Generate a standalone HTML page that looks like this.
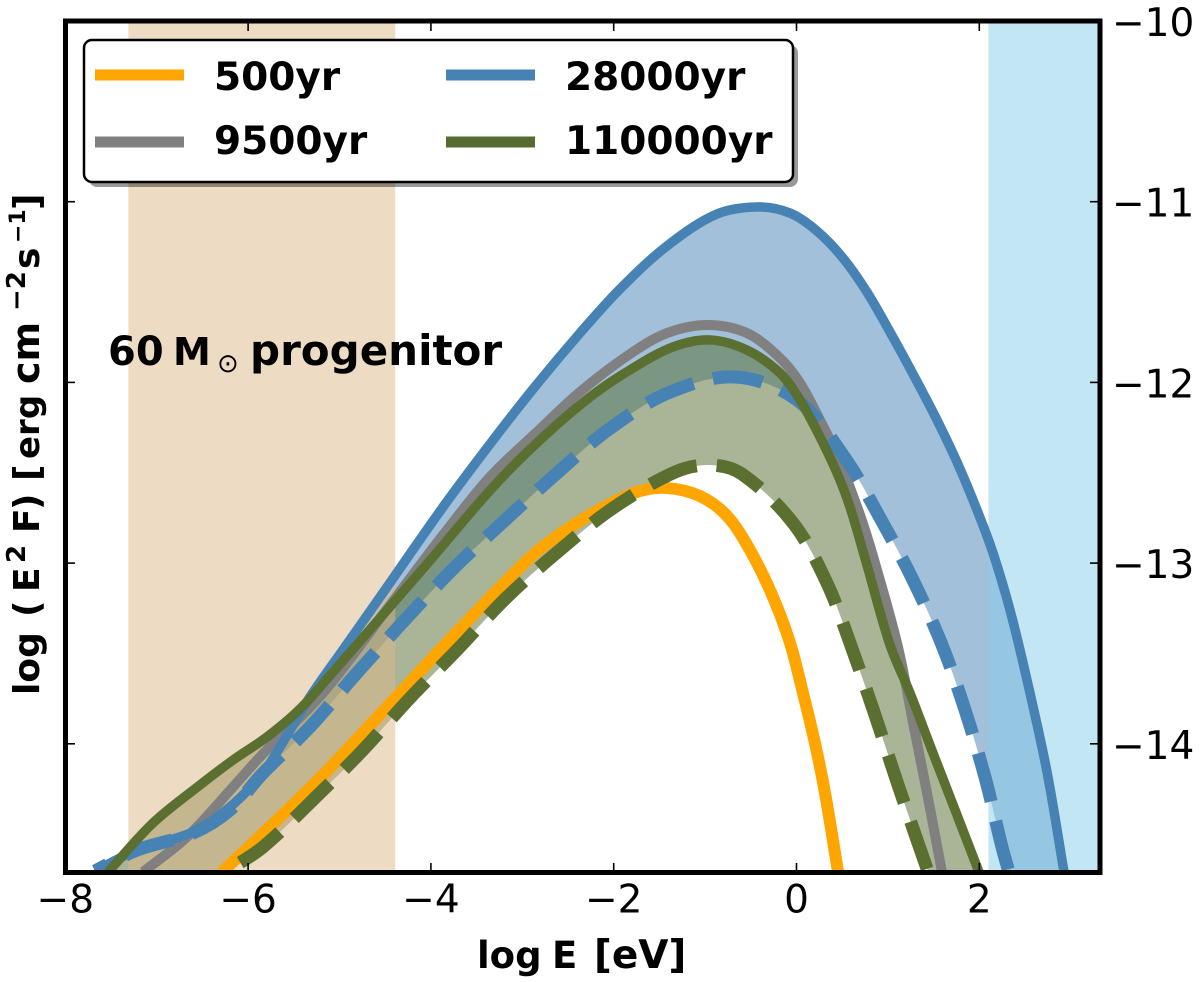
<!DOCTYPE html>
<html lang="en">
<head>
<meta charset="utf-8">
<title>60 solar mass progenitor spectral energy distribution</title>
<style>
html,body{margin:0;padding:0;background:#fff;}
svg{display:block;font-family:"DejaVu Sans","Liberation Sans",sans-serif;}
.b{font-weight:bold;fill:#000;}
</style>
</head>
<body>
<svg id="chart" xmlns="http://www.w3.org/2000/svg" width="1200" height="982" viewBox="0 0 1200 982">
<defs><clipPath id="plot-clip"><rect x="65.5" y="21" width="1034.5" height="851.5"/></clipPath></defs>
<rect x="0" y="0" width="1200" height="982" fill="#fff"/>
<g id="plot" clip-path="url(#plot-clip)"></g>
<g id="ticks"></g>
<rect x="65.5" y="21" width="1034.5" height="851.5" fill="none" stroke="#000" stroke-width="5"/>
<g id="tick-labels"></g>

<text class="b" font-size="37" y="968"><tspan x="477">log</tspan><tspan x="552">E</tspan><tspan x="594" font-size="39">[eV]</tspan></text>

<g transform="translate(39,693) rotate(-90)" class="b" font-size="36">
<text x="-2" y="0">log</text><text x="76" y="0">(</text><text x="101" y="0">E</text><text x="130" y="-14" font-size="26">2</text><text x="160" y="0">F</text><text x="183" y="0">)</text><text x="212" y="0">[</text><text x="234" y="0" font-size="34">erg</text><text x="309" y="0" font-size="38">cm</text><text x="382" y="-14" font-size="26">−2</text><text x="424" y="0">s</text><text x="450" y="-14" font-size="22">−1</text><text x="483" y="0">]</text>
</g>

<g class="b">
<text x="108" y="365" font-size="40">60</text>
<text x="173" y="365" font-size="38">M</text>
<text x="217" y="372" font-size="26" font-weight="normal">⊙</text>
<text x="250" y="365" font-size="42">progenitor</text>
</g>

<g>
<rect x="89" y="45" width="709" height="142" rx="8" fill="#000" fill-opacity="0.4"/>
<rect x="84" y="40" width="709" height="142" rx="8" fill="#fff" stroke="#000" stroke-width="2.5"/>
<g><line x1="95" y1="75" x2="184" y2="75" stroke="#ffa500" stroke-width="11"/><text class="b" x="214" y="90" font-size="39">500yr</text></g>
<g><line x1="95" y1="142" x2="184" y2="142" stroke="#808080" stroke-width="11"/><text class="b" x="214" y="154" font-size="39">9500yr</text></g>
<g><line x1="446" y1="75" x2="535" y2="75" stroke="#4682b4" stroke-width="11"/><text class="b" x="565" y="90" font-size="39">28000yr</text></g>
<g><line x1="446" y1="142" x2="535" y2="142" stroke="#556b2f" stroke-width="11"/><text class="b" x="565" y="154" font-size="39">110000yr</text></g>
</g>
</svg>
<script>
var xTicks = [-8, -6, -4, -2, 0, 2];
var yTicks = [-14, -13, -12, -11, -10];
var xTickLabels = ['−8', '−6', '−4', '−2', '0', '2'];
var yTickLabels = ['−14', '−13', '−12', '−11', '−10'];

var burlywoodBand = [-7.31, -4.39];
var skyBand = [2.1, 3.32];

var blueHiE = [-7.675,-7.216,-6.603,-6.198,-5.837,-5.651,-5.323,-4.940,-4.557,-3.868,-3.353,-2.883,-2.369,-1.931,-1.417,-0.870,-0.421,-0.071,0.224,0.509,0.771,1.023,1.275,1.537,1.756,1.975,2.150,2.336,2.522,2.741,2.927];
var blueHiF = [-14.704,-14.588,-14.488,-14.350,-14.162,-14.018,-13.741,-13.464,-13.188,-12.690,-12.341,-12.037,-11.727,-11.483,-11.245,-11.068,-11.029,-11.063,-11.162,-11.312,-11.500,-11.721,-11.954,-12.208,-12.441,-12.706,-12.944,-13.260,-13.647,-14.156,-14.710];

var blueLoE = [-7.675,-7.216,-6.603,-6.198,-5.837,-5.323,-4.809,-4.305,-3.769,-3.211,-2.642,-2.062,-1.406,-0.673,0.005,0.531,0.914,1.275,1.592,1.844,2.062,2.248,2.325];
var blueLoF = [-14.704,-14.588,-14.494,-14.366,-14.162,-13.907,-13.608,-13.326,-13.038,-12.773,-12.512,-12.263,-12.059,-11.970,-12.097,-12.418,-12.750,-13.094,-13.453,-13.813,-14.184,-14.571,-14.710];

var grayE = [-7.150,-6.669,-6.165,-5.870,-5.181,-4.447,-3.868,-3.353,-2.839,-2.369,-1.822,-1.417,-0.979,-0.542,-0.181,0.038,0.257,0.443,0.695,0.859,1.110,1.297,1.428,1.592];
var grayF = [-14.71,-14.516,-14.239,-14.073,-13.719,-13.232,-12.845,-12.523,-12.274,-12.053,-11.843,-11.727,-11.682,-11.727,-11.865,-12.003,-12.208,-12.402,-12.734,-13.000,-13.464,-13.940,-14.272,-14.71];

var orangeE = [-6.286,-5.684,-5.181,-4.480,-3.901,-3.167,-2.806,-2.402,-2.041,-1.712,-1.417,-1.056,-0.760,-0.509,-0.257,-0.071,0.071,0.202,0.312,0.455];
var orangeF = [-14.71,-14.422,-14.173,-13.796,-13.481,-13.094,-12.922,-12.778,-12.673,-12.601,-12.584,-12.629,-12.739,-12.928,-13.188,-13.442,-13.719,-13.996,-14.272,-14.71];

var greenHiE = [-7.533,-7.040,-6.526,-6.165,-5.793,-5.432,-5.071,-4.699,-4.338,-3.977,-3.320,-2.806,-2.259,-1.822,-1.351,-0.946,-0.542,-0.181,0.038,0.257,0.443,0.585,0.771,1.023,1.242,1.493,1.756,1.997];
var greenHiF = [-14.71,-14.438,-14.228,-14.090,-13.962,-13.807,-13.603,-13.387,-13.177,-12.966,-12.579,-12.319,-12.081,-11.931,-11.804,-11.765,-11.821,-11.948,-12.097,-12.302,-12.501,-12.690,-13.011,-13.453,-13.719,-14.051,-14.394,-14.71];

var greenLoE = [-6.253,-5.837,-5.181,-4.743,-4.229,-3.715,-3.167,-2.587,-2.007,-1.329,-0.946,-0.597,-0.038,0.333,0.605,0.859,1.100,1.318,1.460];
var greenLoF = [-14.71,-14.571,-14.256,-14.034,-13.747,-13.481,-13.188,-12.927,-12.695,-12.496,-12.457,-12.507,-12.778,-13.110,-13.470,-13.841,-14.211,-14.532,-14.737];

function xScale(v){ return 796.5 + 91.4 * v; }
function yScale(v){ return 21 + (-10 - v) * 180.7; }

var NS = 'http://www.w3.org/2000/svg';
var plot = document.getElementById('plot');
var ticksG = document.getElementById('ticks');
var labelsG = document.getElementById('tick-labels');

function toPoints(es, fs){
  var pts = [];
  for (var i = 0; i < es.length; i++) { pts.push([xScale(es[i]), yScale(fs[i])]); }
  return pts;
}
function dist(a, b){ return Math.sqrt((a[0]-b[0])*(a[0]-b[0]) + (a[1]-b[1])*(a[1]-b[1])); }
function tangent(pts, i){
  var a = pts[Math.max(i - 1, 0)], b = pts[Math.min(i + 1, pts.length - 1)];
  var l = dist(a, b) || 1;
  return [(b[0] - a[0]) / l, (b[1] - a[1]) / l];
}
function smooth(pts, move){
  var d = (move ? 'M' : 'L') + pts[0][0].toFixed(2) + ' ' + pts[0][1].toFixed(2);
  for (var i = 0; i < pts.length - 1; i++) {
    var p1 = pts[i], p2 = pts[i + 1];
    var s = dist(p1, p2) / 3;
    var t1 = tangent(pts, i), t2 = tangent(pts, i + 1);
    d += 'C' + (p1[0] + t1[0] * s).toFixed(2) + ' ' + (p1[1] + t1[1] * s).toFixed(2) + ' ' + (p2[0] - t2[0] * s).toFixed(2) + ' ' + (p2[1] - t2[1] * s).toFixed(2) + ' ' + p2[0].toFixed(2) + ' ' + p2[1].toFixed(2);
  }
  return d;
}
function bandPath(hiE, hiF, loE, loF){
  var hi = toPoints(hiE, hiF);
  var lo = toPoints(loE, loF).reverse();
  return smooth(hi, true) + smooth(lo, false) + 'Z';
}

var blueFill = document.createElementNS(NS, 'path');


blueFill.setAttribute('d', bandPath(blueHiE, blueHiF, blueLoE, blueLoF));
blueFill.setAttribute('fill', '#4682b4');
blueFill.setAttribute('fill-opacity', '0.5');
plot.appendChild(blueFill);

var greenFill = document.createElementNS(NS, 'path');


greenFill.setAttribute('d', bandPath(greenHiE, greenHiF, greenLoE, greenLoF));
greenFill.setAttribute('fill', '#556b2f');
greenFill.setAttribute('fill-opacity', '0.5');
plot.appendChild(greenFill);

var bandTop = yScale(-10), bandBottom = yScale(-14.71);

var band1 = document.createElementNS(NS, 'rect');


band1.setAttribute('x', xScale(burlywoodBand[0]));
band1.setAttribute('y', bandTop);
band1.setAttribute('width', xScale(burlywoodBand[1]) - xScale(burlywoodBand[0]));
band1.setAttribute('height', bandBottom - bandTop);
band1.setAttribute('fill', '#deb887');
band1.setAttribute('fill-opacity', '0.5');
plot.appendChild(band1);

var band2 = document.createElementNS(NS, 'rect');


band2.setAttribute('x', xScale(skyBand[0]));
band2.setAttribute('y', bandTop);
band2.setAttribute('width', xScale(skyBand[1]) - xScale(skyBand[0]));
band2.setAttribute('height', bandBottom - bandTop);
band2.setAttribute('fill', '#87ceeb');
band2.setAttribute('fill-opacity', '0.5');
plot.appendChild(band2);

var lineOrange = document.createElementNS(NS, 'path');


lineOrange.setAttribute('d', smooth(toPoints(orangeE, orangeF), true));
lineOrange.setAttribute('fill', 'none');
lineOrange.setAttribute('stroke', '#ffa500');
lineOrange.setAttribute('stroke-width', '12');
plot.appendChild(lineOrange);

var lineGray = document.createElementNS(NS, 'path');


lineGray.setAttribute('d', smooth(toPoints(grayE, grayF), true));
lineGray.setAttribute('fill', 'none');
lineGray.setAttribute('stroke', '#808080');
lineGray.setAttribute('stroke-width', '10');
plot.appendChild(lineGray);

var lineBlueLo = document.createElementNS(NS, 'path');


lineBlueLo.setAttribute('d', smooth(toPoints(blueLoE, blueLoF), true));
lineBlueLo.setAttribute('fill', 'none');
lineBlueLo.setAttribute('stroke', '#4682b4');
lineBlueLo.setAttribute('stroke-width', '13');
lineBlueLo.setAttribute('stroke-dasharray', '50 20');
lineBlueLo.setAttribute('stroke-dashoffset', '-34');
plot.appendChild(lineBlueLo);

var lineBlueHi = document.createElementNS(NS, 'path');


lineBlueHi.setAttribute('d', smooth(toPoints(blueHiE, blueHiF), true));
lineBlueHi.setAttribute('fill', 'none');
lineBlueHi.setAttribute('stroke', '#4682b4');
lineBlueHi.setAttribute('stroke-width', '9.5');
plot.appendChild(lineBlueHi);

var lineGreenLo = document.createElementNS(NS, 'path');


lineGreenLo.setAttribute('d', smooth(toPoints(greenLoE, greenLoF), true));
lineGreenLo.setAttribute('fill', 'none');
lineGreenLo.setAttribute('stroke', '#5a6f30');
lineGreenLo.setAttribute('stroke-width', '13');
lineGreenLo.setAttribute('stroke-dasharray', '50 20');
lineGreenLo.setAttribute('stroke-dashoffset', '-18');
plot.appendChild(lineGreenLo);

var lineGreenHi = document.createElementNS(NS, 'path');


lineGreenHi.setAttribute('d', smooth(toPoints(greenHiE, greenHiF), true));
lineGreenHi.setAttribute('fill', 'none');
lineGreenHi.setAttribute('stroke', '#5a6f30');
lineGreenHi.setAttribute('stroke-width', '9.5');
plot.appendChild(lineGreenHi);

function addTick(x1, y1, x2, y2, name){
  var t = document.createElementNS(NS, 'line');
  
  
  t.setAttribute('x1', x1);
  t.setAttribute('y1', y1);
  t.setAttribute('x2', x2);
  t.setAttribute('y2', y2);
  t.setAttribute('stroke', '#000');
  t.setAttribute('stroke-width', '1.6');
  ticksG.appendChild(t);
}

xTicks.forEach(function(v, i){
  var x = xScale(v);
  addTick(x, 872, x, 863, 'x-tick');
  addTick(x, 21, x, 31, 'x-tick-top');
  var t = document.createElementNS(NS, 'text');
  
  
  t.setAttribute('x', x);
  t.setAttribute('y', 912.5);
  t.setAttribute('font-size', '39');
  t.setAttribute('text-anchor', 'middle');
  t.setAttribute('fill', '#000');
  t.textContent = xTickLabels[i];
  labelsG.appendChild(t);
});

yTicks.forEach(function(v, i){
  var y = yScale(v);
  addTick(65, y, 75, y, 'y-tick-left');
  addTick(1100, y, 1090, y, 'y-tick-right');
  var t = document.createElementNS(NS, 'text');
  
  
  t.setAttribute('x', 1112);
  t.setAttribute('y', y + 15);
  t.setAttribute('font-size', '39');
  t.setAttribute('fill', '#000');
  t.textContent = yTickLabels[i];
  labelsG.appendChild(t);
});
</script>
</body>
</html>
